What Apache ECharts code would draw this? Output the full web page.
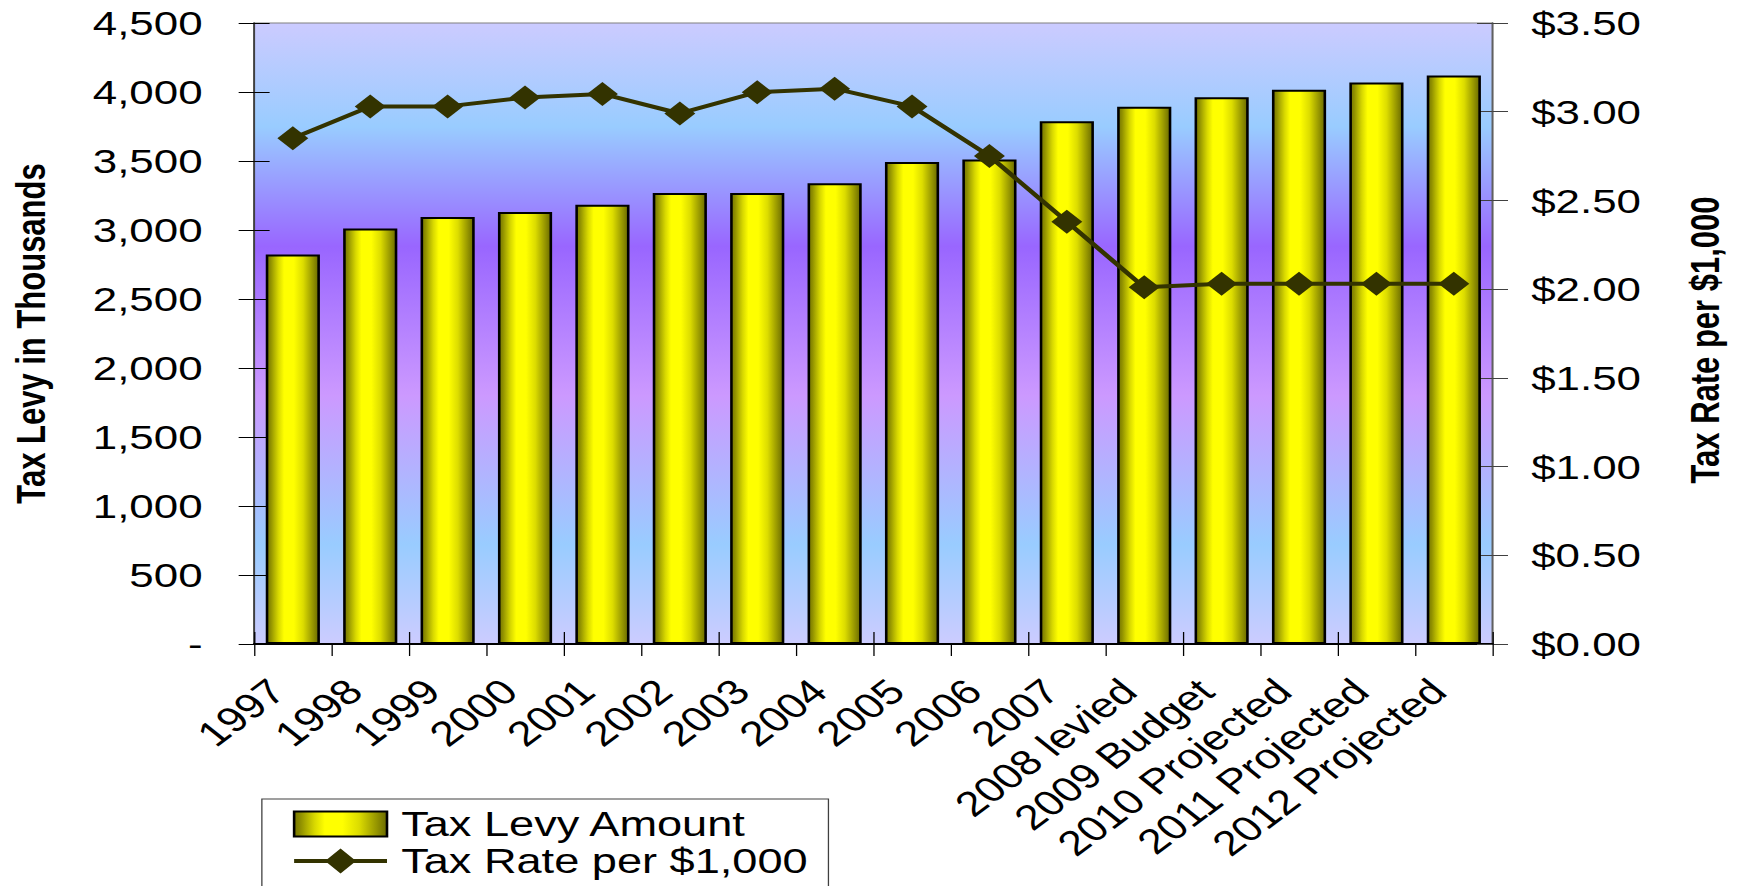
<!DOCTYPE html>
<html>
<head>
<meta charset="utf-8">
<script src="https://cdn.jsdelivr.net/npm/echarts@6/dist/echarts.min.js"></script>
<style>
html, body { margin: 0; padding: 0; background: #ffffff; overflow: hidden; width: 1740px; height: 886px; }
#chart { width: 1349px; height: 886px; transform: scaleX(1.29); transform-origin: 0 0; }
</style>
</head>
<body>
<div id="chart"></div>
<script>
const categories = ['1997', '1998', '1999', '2000', '2001', '2002', '2003', '2004', '2005', '2006', '2007',
  '2008 levied', '2009 Budget', '2010 Projected', '2011 Projected', '2012 Projected'];
const levyValues = [2822, 3011, 3095, 3131, 3183, 3269, 3269, 3339, 3493, 3511, 3788, 3893, 3962, 4017, 4068, 4119];
const rateValues = [2.85, 3.03, 3.03, 3.08, 3.10, 2.99, 3.11, 3.13, 3.03, 2.75, 2.38, 2.01, 2.03, 2.03, 2.03, 2.03];
const levyTickLabels = ['-', '500', '1,000', '1,500', '2,000', '2,500', '3,000', '3,500', '4,000', '4,500'];
const rateTickLabels = ['$0.00', '$0.50', '$1.00', '$1.50', '$2.00', '$2.50', '$3.00', '$3.50'];
const seriesNames = ['Tax Levy Amount', 'Tax Rate per $1,000'];
const axisTitles = ['Tax Levy in Thousands', 'Tax Rate per $1,000'];

const FONT = "'Liberation Sans', Arial, sans-serif";
const chart = echarts.init(document.getElementById('chart'), null, { renderer: 'svg' });

const barGradient = {
  type: 'linear', x: 0, y: 0, x2: 1, y2: 0,
  colorStops: [
    { offset: 0, color: '#767600' },
    { offset: 0.07, color: '#8f8f00' },
    { offset: 0.14, color: '#b2b200' },
    { offset: 0.22, color: '#d8d800' },
    { offset: 0.33, color: '#ffff00' },
    { offset: 0.52, color: '#ffff00' },
    { offset: 0.7, color: '#dcdc00' },
    { offset: 0.87, color: '#9c9c00' },
    { offset: 1, color: '#6a6a00' }
  ]
};
const plotGradient = {
  type: 'linear', x: 0, y: 0, x2: 0, y2: 1,
  colorStops: [
    { offset: 0, color: '#cccbff' },
    { offset: 0.167, color: '#99ccff' },
    { offset: 0.36, color: '#9966ff' },
    { offset: 0.6, color: '#cc99ff' },
    { offset: 0.84, color: '#99ccff' },
    { offset: 1, color: '#ccccff' }
  ]
};
// legend icon for the line series: thick line with a diamond in the middle
const lineLegendIcon = 'path://M0,10.5 L25.92,10.5 L36,0 L46.08,10.5 L72,10.5 L72,14.5 L46.08,14.5 L36,25 L25.92,14.5 L0,14.5 Z';

const option = {
  animation: false,
  textStyle: { fontFamily: FONT, color: '#000' },
  grid: {
    left: 197, right: 192, top: 23, bottom: 242,
    show: true, backgroundColor: plotGradient, borderColor: '#808080', borderWidth: 1
  },
  legend: {
    orient: 'vertical', left: 203, top: 799, height: 200,
    padding: [7, 16, 30, 24], itemGap: 1, itemWidth: 72, itemHeight: 25,
    borderColor: '#404040', borderWidth: 1,
    textStyle: { fontSize: 35, lineHeight: 36, color: '#000', fontFamily: FONT, padding: [0, 0, 0, 6] },
    data: [
      { name: seriesNames[0], icon: 'rect' },
      { name: seriesNames[1], icon: lineLegendIcon, itemStyle: { color: '#333300', borderWidth: 0 } }
    ]
  },
  xAxis: [
    {
      type: 'category', data: categories, position: 'bottom',
      axisLine: { lineStyle: { color: '#000', width: 2 } },
      axisTick: { show: true, length: 12, lineStyle: { color: '#000' } },
      axisLabel: { rotate: 44, fontSize: 35, color: '#000', margin: 54, fontFamily: FONT, interval: 0,
        align: 'right', verticalAlign: 'bottom' }
    },
    {
      type: 'category', data: categories, position: 'bottom',
      axisLine: { show: false },
      axisTick: { show: true, inside: true, length: 12, lineStyle: { color: '#000' } },
      axisLabel: { show: false }
    }
  ],
  yAxis: [
    {
      type: 'value', min: 0, max: 4500, interval: 500, position: 'left',
      name: axisTitles[0], nameLocation: 'middle', nameRotate: 90, nameGap: 157,
      nameTextStyle: { fontSize: 31, fontWeight: 'bold', color: '#000', fontFamily: FONT },
      axisLine: { show: true, lineStyle: { color: '#404040', width: 1.5 } },
      axisTick: { show: true, length: 12, lineStyle: { color: '#000' } },
      splitLine: { show: false },
      axisLabel: { fontSize: 34, color: '#000', margin: 40, fontFamily: FONT,
        formatter: v => levyTickLabels[Math.round(v / 500)] }
    },
    {
      type: 'value', min: 0, max: 3.5, interval: 0.5, position: 'right',
      name: axisTitles[1], nameLocation: 'middle', nameRotate: 90, nameGap: 150,
      nameTextStyle: { fontSize: 31, fontWeight: 'bold', color: '#000', fontFamily: FONT, padding: [0, 13, 0, 0] },
      axisLine: { show: true, lineStyle: { color: '#606060', width: 1.5 } },
      axisTick: { show: true, length: 12, lineStyle: { color: '#404040' } },
      splitLine: { show: false },
      axisLabel: { fontSize: 34, color: '#000', margin: 30, fontFamily: FONT,
        formatter: v => rateTickLabels[Math.round(v / 0.5)] }
    },
    {
      type: 'value', min: 0, max: 4500, interval: 500, position: 'left',
      axisLine: { show: false }, splitLine: { show: false }, axisLabel: { show: false },
      axisTick: { show: true, inside: true, length: 12, lineStyle: { color: '#000' } }
    },
    {
      type: 'value', min: 0, max: 3.5, interval: 0.5, position: 'right',
      axisLine: { show: false }, splitLine: { show: false }, axisLabel: { show: false },
      axisTick: { show: true, inside: true, length: 12, lineStyle: { color: '#404040' } }
    }
  ],
  series: [
    {
      name: seriesNames[0], type: 'bar', data: levyValues, xAxisIndex: 0, yAxisIndex: 0,
      barWidth: '70%',
      itemStyle: { color: barGradient, borderColor: '#000', borderWidth: 2 }
    },
    {
      name: seriesNames[1], type: 'line', data: rateValues, xAxisIndex: 0, yAxisIndex: 1,
      symbol: 'diamond', symbolSize: 24, z: 5,
      lineStyle: { color: '#333300', width: 4 },
      itemStyle: { color: '#333300' }
    }
  ]
};
chart.setOption(option);
</script>
</body>
</html>
